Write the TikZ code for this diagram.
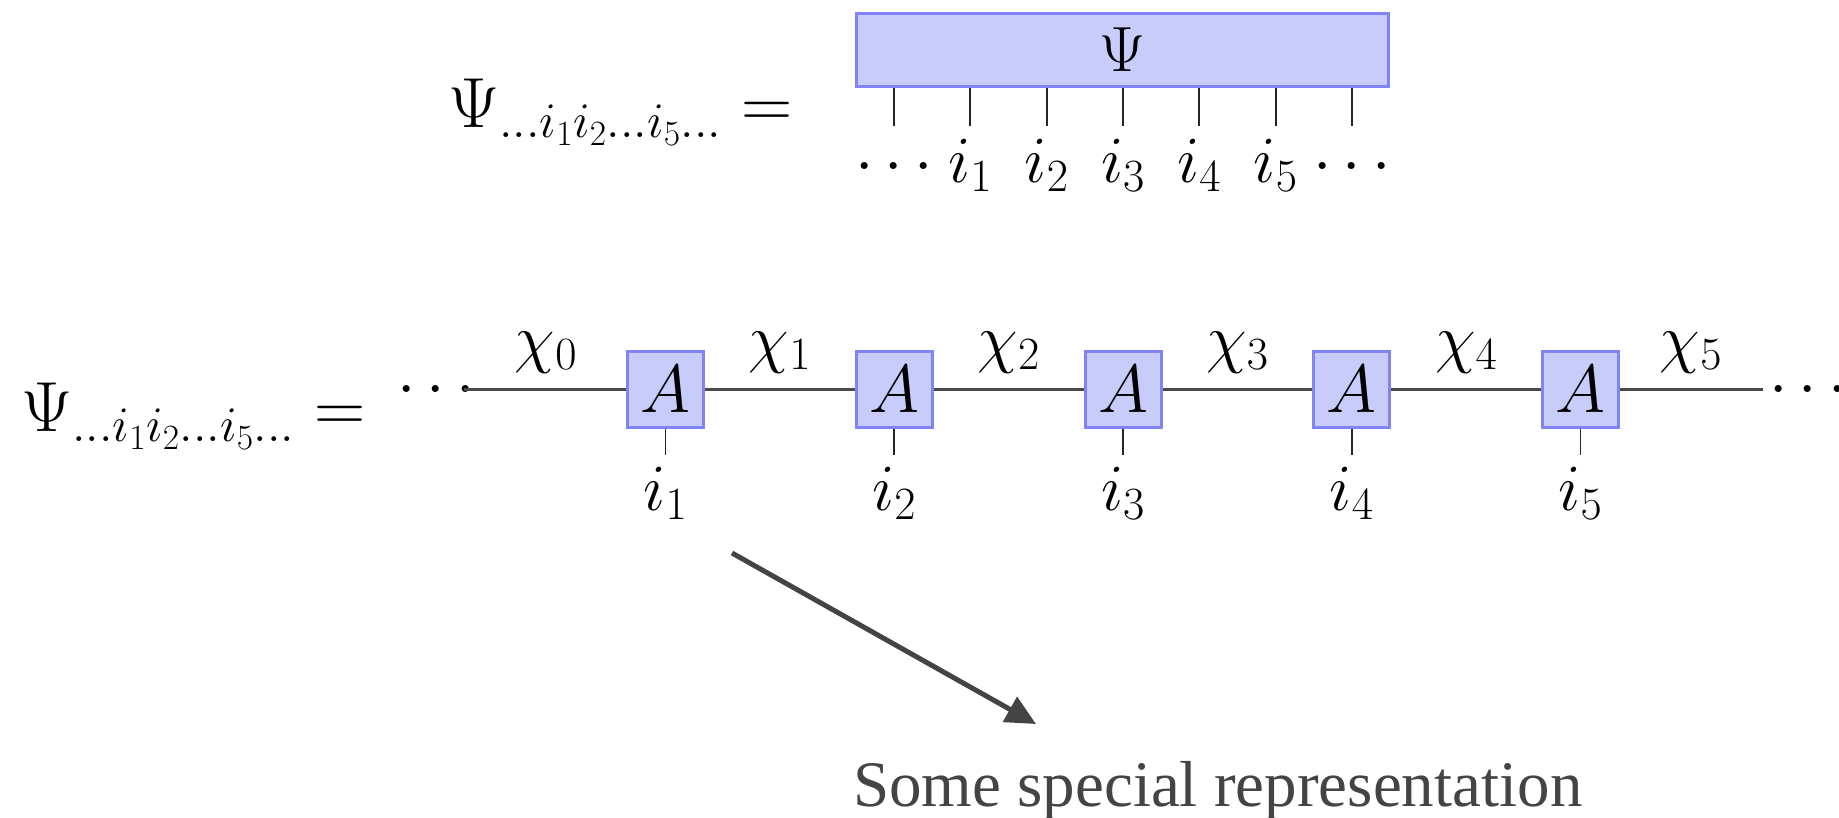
\RequirePackage{fix-cm}
\documentclass[tikz,border=0pt]{standalone}
\usepackage{fontspec}
\newfontfamily\captionserif{Liberation Serif}
\usetikzlibrary{arrows.meta}
\definecolor{boxfill}{HTML}{C8CCFA}
\definecolor{boxdraw}{HTML}{8084F6}
\definecolor{bondgray}{HTML}{4A4A4A}
\definecolor{arrowgray}{HTML}{444444}
\begin{document}
\begin{tikzpicture}[x=1pt,y=-1pt,
  tensor/.style={draw=boxdraw, fill=boxfill, line width=3pt, minimum width=76pt,
    minimum height=76pt, inner sep=0pt, font=\fontsize{68}{72}\selectfont},
  bigtensor/.style={draw=boxdraw, fill=boxfill, line width=3pt, minimum width=532pt,
    minimum height=73pt, inner sep=0pt, font=\fontsize{64}{70}\selectfont},
  leg/.style={line width=1.8pt, black!85},
  bond/.style={line width=3pt, bondgray},
  lab/.style={font=\fontsize{66}{70}\selectfont, inner sep=0pt, anchor=base},
  eqn/.style={font=\fontsize{71}{76}\selectfont, inner sep=0pt, anchor=base west},
  pointer/.style={line width=5pt, arrowgray, -{Triangle[length=30pt,width=28pt]}},
  caption/.style={font=\captionserif\fontsize{65}{70}\selectfont, text=arrowgray,
    inner sep=0pt, anchor=base west}]
\useasboundingbox (0,0) rectangle (1839,817);

% ---------- top row ----------
\node[eqn] (eqtop) at (448,127) {$\Psi_{\ldots i_1 i_2\ldots i_5\ldots} =$};
\node[bigtensor] (psi) at (1122.5,50) {$\Psi$};
\foreach \k/\x in {0/894,1/970.3,2/1046.7,3/1123,4/1199.3,5/1275.7,6/1352}{
  \coordinate (t\k) at (\x,126);
  \draw[leg] (t\k |- psi.south) -- (t\k);
}
\node[lab] (tl0) at (894,182) {$\cdots$};
\node[lab] (tl1) at (970.3,182) {$i_1$};
\node[lab] (tl2) at (1046.7,182) {$i_2$};
\node[lab] (tl3) at (1123,182) {$i_3$};
\node[lab] (tl4) at (1199.3,182) {$i_4$};
\node[lab] (tl5) at (1275.7,182) {$i_5$};
\node[lab] (tl6) at (1352,182) {$\cdots$};

% ---------- bottom row ----------
\node[eqn] (eqbot) at (21,431) {$\Psi_{\ldots i_1 i_2\ldots i_5\ldots} =$};
\node[lab] (dl) at (436,405.5) {$\cdots$};
\node[lab] (dr) at (1808,405.5) {$\cdots$};
\coordinate (ls) at (464,389);
\coordinate (le) at (1763,389);
\foreach \k in {1,...,5}{
  \node[tensor] (A\k) at ({665.5+228.75*(\k-1)},389) {$A$};
}
\draw[bond] (ls) -- (A1) -- (A2) -- (A3) -- (A4) -- (A5) -- (le);
\foreach \k in {1,...,5}{
  \coordinate (b\k) at ({665.5+228.75*(\k-1)},455);
  \draw[leg] (A\k.south) -- (b\k);
  \node[lab] (bl\k) at ({665.5+228.75*(\k-1)},510) {$i_\k$};
}
\node[lab] (c0) at (546,360) {$\chi_0$};
\foreach \k in {1,...,4}{
  \node[lab] (c\k) at ({780+228.75*(\k-1)},360) {$\chi_\k$};
}
\node[lab] (c5) at (1691,360) {$\chi_5$};

% ---------- pointer ----------
\node[caption] (cap) at (853,806) {Some special representation};
\coordinate (pstart) at (732,553);
\coordinate (pend) at (1036,724);
\draw[pointer] (pstart) -- (pend);
\end{tikzpicture}
\end{document}
